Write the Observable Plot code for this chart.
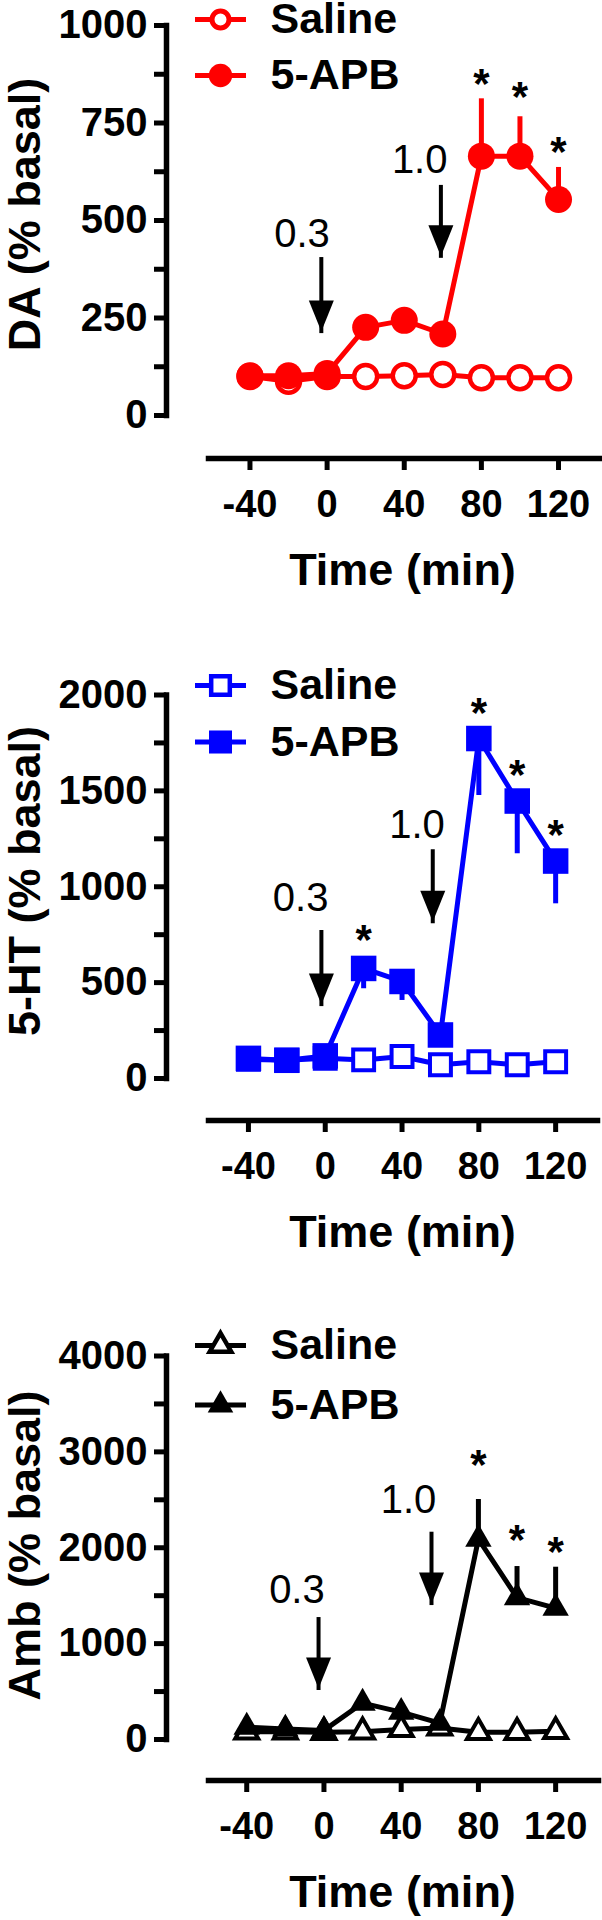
<!DOCTYPE html>
<html>
<head>
<meta charset="utf-8">
<script src="https://cdn.jsdelivr.net/npm/d3@7"></script>
<script src="https://cdn.jsdelivr.net/npm/@observablehq/plot@0.6"></script>
<style>
  html, body { margin: 0; padding: 0; background: #ffffff; }
  #chart svg { display: block; }
</style>
</head>
<body>
<div id="chart"></div>
<script>
// ---------- shared data ----------
const times = [-40, -20, 0, 20, 40, 60, 80, 100, 120];
const xTicks = [-40, 0, 40, 80, 120];
const seriesNames = ["Saline", "5-APB"];
const doseLabels = ["0.3", "1.0"];
const xTitle = "Time (min)";

// ---------- DA ----------
const daTitle = "DA (% basal)";
const daTicks = [0, 125, 250, 375, 500, 625, 750, 875, 1000];
const daTickLabels = [0, 250, 500, 750, 1000];
const daSaline = [100, 88, 100, 100, 102, 105, 97, 97, 97];
const daApb = [102, 102, 108, 226, 244, 209, 665, 665, 554];
const daErrTimes = [80, 100, 120];
const daErrEnd = [812, 766, 636];
const daStarTimes = [80, 100, 120];
const daStarY = [873, 841, 699];
const daArrowTimes = [-3, 59];
const daArrowTop = [405, 590];
const daArrowTip = [210, 403];
const daLabelTimes = [-13, 48];
const daLabelY = [464, 654];

// ---------- 5-HT ----------
const htTitle = "5-HT (% basal)";
const htTicks = [0, 250, 500, 750, 1000, 1250, 1500, 1750, 2000];
const htTickLabels = [0, 500, 1000, 1500, 2000];
const htSaline = [100, 95, 105, 97, 115, 72, 87, 72, 87];
const htApb = [105, 95, 118, 574, 506, 227, 1773, 1447, 1134];
const htErrTimes = [20, 40, 80, 100, 120];
const htErrEnd = [468, 407, 1476, 1172, 911];
const htStarTimes = [20, 80, 100, 120];
const htStarY = [769, 1953, 1632, 1317];
const htArrowTimes = [-2, 56];
const htArrowTop = [772, 1193];
const htArrowTip = [375, 807];
const htLabelTimes = [-12.8, 47.8];
const htLabelY = [939, 1319];

// ---------- Amb ----------
const ambTitle = "Amb (% basal)";
const ambTicks = [0, 500, 1000, 1500, 2000, 2500, 3000, 3500, 4000];
const ambTickLabels = [0, 1000, 2000, 3000, 4000];
const ambSaline = [80, 80, 75, 80, 105, 120, 75, 75, 85];
const ambApb = [130, 110, 95, 380, 285, 170, 2090, 1480, 1370];
const ambErrTimes = [80, 100, 120];
const ambErrEnd = [2503, 1804, 1797];
const ambStarTimes = [80, 100, 120];
const ambStarY = [2961, 2179, 2059];
const ambArrowTimes = [-2.8, 55.7];
const ambArrowTop = [1272, 2162];
const ambArrowTip = [511, 1397];
const ambLabelTimes = [-14, 43.8];
const ambLabelY = [1554, 2492];

// ---------- drawing ----------
const FONT = "'Liberation Sans', Arial, Helvetica, sans-serif";
const W = 602, H = 640, ML = 166, XINSET = 42;

const arrowHead = {
  draw(context) {
    context.moveTo(0, 0);
    context.lineTo(-12.5, -31);
    context.lineTo(12.5, -31);
    context.closePath();
  }
};

function panel(cfg) {
  const saline = times.map((t, i) => ({t, v: cfg.saline[i]}));
  const apb = times.map((t, i) => ({t, v: cfg.apb[i]}));
  const errs = cfg.errTimes.map((t, i) => ({t, v: cfg.apb[times.indexOf(t)], end: cfg.errEnd[i]}));
  const stars = cfg.starTimes.map((t, i) => ({t, v: cfg.starY[i]}));
  const arrows = cfg.arrowTimes.map((t, i) => ({
    t, top: cfg.arrowTop[i], tip: cfg.arrowTip[i],
    label: doseLabels[i], lt: cfg.labelTimes[i], lv: cfg.labelY[i]
  }));
  const mt = cfg.layout.marginTop, mb = cfg.layout.marginBottom, mr = cfg.layout.marginRight;
  const ib = cfg.layout.insetBottom;
  const c = cfg.color;
  const m = cfg.markers;

  const legendMarks = cfg.layout.legendY.map((ly, i) => [
    Plot.frame({anchor: "top", insetTop: ly - mt, insetLeft: 197 - ML, insetRight: (W - mr) - 243,
                stroke: c, strokeWidth: 5}),
    Plot.dot([0], {frameAnchor: "top-left", dx: 220 - ML, dy: ly - mt, symbol: m.symbol,
                   r: i === 0 ? m.legendOpenR : m.legendFillR,
                   fill: i === 0 ? "white" : c, stroke: i === 0 ? c : "none",
                   strokeWidth: i === 0 ? m.openStroke + 0.5 : 0}),
    Plot.text([seriesNames[i]], {frameAnchor: "top-left", dx: 270 - ML, dy: ly - mt,
                   textAnchor: "start", lineAnchor: "middle", fontSize: 43, fontWeight: "bold", fill: "black"})
  ]).flat();

  return Plot.plot({
    width: W, height: H,
    marginLeft: ML, marginRight: mr, marginTop: mt, marginBottom: mb,
    style: {fontFamily: FONT, background: "white", color: "black", overflow: "visible"},
    x: {domain: cfg.layout.xDomain, insetLeft: XINSET},
    y: {domain: [0, cfg.ticks[cfg.ticks.length - 1]], insetBottom: ib},
    marks: [
      Plot.frame({anchor: "left", insetBottom: ib, stroke: "black", strokeWidth: 5.5}),
      Plot.frame({anchor: "bottom", insetLeft: XINSET, stroke: "black", strokeWidth: 5.5}),
      Plot.axisY({ticks: cfg.ticks, tickFormat: d => cfg.tickLabels.includes(d) ? String(d) : "",
                  tickSize: 12, tickPadding: 7, strokeWidth: 5, fontSize: 40, fontWeight: "bold", label: null}),
      Plot.axisX({ticks: xTicks, tickFormat: d => String(d), tickSize: 12, tickPadding: 20,
                  strokeWidth: 5, fontSize: 38, fontWeight: "bold", label: null}),
      Plot.text([cfg.title], {frameAnchor: "top-left", dx: 25 - ML, dy: cfg.layout.titleY - mt, rotate: -90,
                  textAnchor: "middle", fontSize: 45, fontWeight: "bold", lineAnchor: "middle", fill: "black"}),
      Plot.text([xTitle], {frameAnchor: "bottom", dx: 402 - (ML + W - mr) / 2, dy: 95, lineAnchor: "top",
                  textAnchor: "middle", fontSize: 45, fontWeight: "bold", fill: "black"}),
      // Saline
      Plot.line(saline, {x: "t", y: "v", stroke: c, strokeWidth: 5}),
      Plot.dot(saline, {x: "t", y: "v", symbol: m.symbol, r: m.openR, fill: "white", stroke: c, strokeWidth: m.openStroke}),
      // 5-APB
      Plot.line(apb, {x: "t", y: "v", stroke: c, strokeWidth: 5}),
      Plot.ruleX(errs, {x: "t", y1: "v", y2: "end", stroke: c, strokeWidth: 5}),
      Plot.dot(apb, {x: "t", y: "v", symbol: m.symbol, r: m.fillR, fill: c, stroke: "none"}),
      // significance stars
      Plot.text(stars, {x: "t", y: "v", text: () => "*", fontSize: 42, fontWeight: "bold", dy: 10, fill: "black"}),
      // dose arrows
      Plot.ruleX(arrows, {x: "t", y1: "top", y2: "tip", stroke: "black", strokeWidth: 4}),
      Plot.dot(arrows, {x: "t", y: "tip", dy: -2, symbol: arrowHead, fill: "black", stroke: "none"}),
      Plot.text(arrows, {x: "lt", y: "lv", text: "label", fontSize: 40, fontWeight: "normal",
                  lineAnchor: "middle", fill: "black"}),
      ...legendMarks
    ]
  });
}

const panels = [
  {
    title: daTitle, ticks: daTicks, tickLabels: daTickLabels, saline: daSaline, apb: daApb,
    errTimes: daErrTimes, errEnd: daErrEnd, starTimes: daStarTimes, starY: daStarY,
    arrowTimes: daArrowTimes, arrowTop: daArrowTop, arrowTip: daArrowTip,
    labelTimes: daLabelTimes, labelY: daLabelY,
    color: "#ff0000",
    markers: {symbol: "circle", openR: 11.5, fillR: 13.5, openStroke: 4.5, legendOpenR: 8.5, legendFillR: 11.7},
    layout: {marginTop: 25, marginBottom: 182, marginRight: 0, insetBottom: 43,
             xDomain: [-61.5, 142.8], legendY: [19, 75], titleY: 214}
  },
  {
    title: htTitle, ticks: htTicks, tickLabels: htTickLabels, saline: htSaline, apb: htApb,
    errTimes: htErrTimes, errEnd: htErrEnd, starTimes: htStarTimes, starY: htStarY,
    arrowTimes: htArrowTimes, arrowTop: htArrowTop, arrowTip: htArrowTip,
    labelTimes: htLabelTimes, labelY: htLabelY,
    color: "#0000ff",
    markers: {symbol: "square", openR: 11.8, fillR: 14.4, openStroke: 4, legendOpenR: 10.5, legendFillR: 13},
    layout: {marginTop: 54.5, marginBottom: 160, marginRight: 5, insetBottom: 42,
             xDomain: [-60.8, 141.8], legendY: [45, 101.5], titleY: 240.5}
  },
  {
    title: ambTitle, ticks: ambTicks, tickLabels: ambTickLabels, saline: ambSaline, apb: ambApb,
    errTimes: ambErrTimes, errEnd: ambErrEnd, starTimes: ambStarTimes, starY: ambStarY,
    arrowTimes: ambArrowTimes, arrowTop: ambArrowTop, arrowTip: ambArrowTip,
    labelTimes: ambLabelTimes, labelY: ambLabelY,
    color: "#000000",
    markers: {symbol: "triangle", openR: 8.5, fillR: 9.8, openStroke: 4, legendOpenR: 8, legendFillR: 9.5},
    layout: {marginTop: 75.5, marginBottom: 140, marginRight: 4, insetBottom: 41,
             xDomain: [-59.8, 142.2], legendY: [65, 124.5], titleY: 265}
  }
];

const root = document.getElementById("chart");
for (const p of panels) root.appendChild(panel(p));
</script>
</body>
</html>
